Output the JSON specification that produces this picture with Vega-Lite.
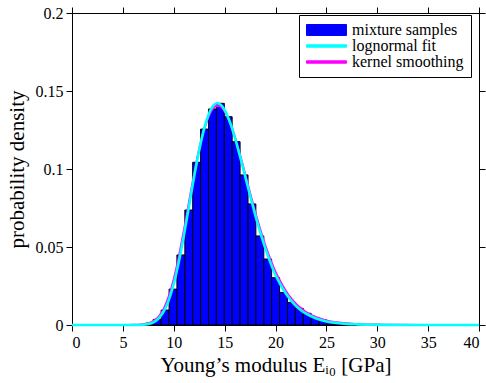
{
  "$schema": "https://vega.github.io/schema/vega-lite/v6.json",
  "width": 407,
  "height": 312,
  "autosize": "none",
  "padding": {"left": 72, "top": 13, "right": 7, "bottom": 58},
  "background": "white",
  "config": {
    "view": {"stroke": null},
    "axis": {
      "domainColor": "black", "tickColor": "black", "labelColor": "black", "titleColor": "black",
      "grid": false, "labelFont": "Liberation Serif", "titleFont": "Liberation Serif",
      "labelFontSize": 16, "titleFontSize": 21, "titleFontWeight": "normal",
      "tickSize": 6, "domainWidth": 1, "tickWidth": 1
    },
    "legend": {"labelFont": "Liberation Serif"}
  },
  "datasets": {
    "bins": [
      {"lo": 6.43, "hi": 7.21, "density": 0.0003},
      {"lo": 7.21, "hi": 7.98, "density": 0.0012},
      {"lo": 7.98, "hi": 8.76, "density": 0.0036},
      {"lo": 8.76, "hi": 9.54, "density": 0.0096},
      {"lo": 9.54, "hi": 10.31, "density": 0.023},
      {"lo": 10.31, "hi": 11.09, "density": 0.0449},
      {"lo": 11.09, "hi": 11.86, "density": 0.0737},
      {"lo": 11.86, "hi": 12.64, "density": 0.1043},
      {"lo": 12.64, "hi": 13.42, "density": 0.1256},
      {"lo": 13.42, "hi": 14.19, "density": 0.1385},
      {"lo": 14.19, "hi": 14.97, "density": 0.1421},
      {"lo": 14.97, "hi": 15.74, "density": 0.1335},
      {"lo": 15.74, "hi": 16.52, "density": 0.1175},
      {"lo": 16.52, "hi": 17.3, "density": 0.0962},
      {"lo": 17.3, "hi": 18.07, "density": 0.0776},
      {"lo": 18.07, "hi": 18.85, "density": 0.0571},
      {"lo": 18.85, "hi": 19.62, "density": 0.0423},
      {"lo": 19.62, "hi": 20.4, "density": 0.0303},
      {"lo": 20.4, "hi": 21.18, "density": 0.0209},
      {"lo": 21.18, "hi": 21.95, "density": 0.0145},
      {"lo": 21.95, "hi": 22.73, "density": 0.0107},
      {"lo": 22.73, "hi": 23.5, "density": 0.0075},
      {"lo": 23.5, "hi": 24.28, "density": 0.0047},
      {"lo": 24.28, "hi": 25.06, "density": 0.0032},
      {"lo": 25.06, "hi": 25.83, "density": 0.0021},
      {"lo": 25.83, "hi": 26.61, "density": 0.0013},
      {"lo": 26.61, "hi": 27.38, "density": 0.0008},
      {"lo": 27.38, "hi": 28.16, "density": 0.0005},
      {"lo": 28.16, "hi": 28.94, "density": 0.0003},
      {"lo": 28.94, "hi": 29.71, "density": 0.0002}
    ],
    "curves": [
      {"E": 0, "lognormal": 0, "kernel": 0},
      {"E": 5, "lognormal": 0, "kernel": 0},
      {"E": 6, "lognormal": 0.00001, "kernel": 0.00003},
      {"E": 6.5, "lognormal": 0.00004, "kernel": 0.0001},
      {"E": 7, "lognormal": 0.00017, "kernel": 0.0004},
      {"E": 7.5, "lognormal": 0.0006, "kernel": 0.001},
      {"E": 8, "lognormal": 0.0017, "kernel": 0.0024},
      {"E": 8.5, "lognormal": 0.0041, "kernel": 0.0052},
      {"E": 9, "lognormal": 0.0085, "kernel": 0.0101},
      {"E": 9.5, "lognormal": 0.0158, "kernel": 0.018},
      {"E": 10, "lognormal": 0.0265, "kernel": 0.0292},
      {"E": 10.5, "lognormal": 0.0406, "kernel": 0.0436},
      {"E": 11, "lognormal": 0.0576, "kernel": 0.0605},
      {"E": 11.5, "lognormal": 0.0762, "kernel": 0.0786},
      {"E": 12, "lognormal": 0.095, "kernel": 0.0965},
      {"E": 12.5, "lognormal": 0.1121, "kernel": 0.1126},
      {"E": 13, "lognormal": 0.1262, "kernel": 0.1256},
      {"E": 13.5, "lognormal": 0.1361, "kernel": 0.1348},
      {"E": 14, "lognormal": 0.1413, "kernel": 0.1398},
      {"E": 14.25, "lognormal": 0.1421, "kernel": 0.1405},
      {"E": 14.5, "lognormal": 0.1417, "kernel": 0.1404},
      {"E": 15, "lognormal": 0.1378, "kernel": 0.137},
      {"E": 15.5, "lognormal": 0.1304, "kernel": 0.1302},
      {"E": 16, "lognormal": 0.1203, "kernel": 0.1207},
      {"E": 16.5, "lognormal": 0.1084, "kernel": 0.1093},
      {"E": 17, "lognormal": 0.0958, "kernel": 0.097},
      {"E": 17.5, "lognormal": 0.083, "kernel": 0.0845},
      {"E": 18, "lognormal": 0.0707, "kernel": 0.0724},
      {"E": 18.5, "lognormal": 0.0593, "kernel": 0.0611},
      {"E": 19, "lognormal": 0.0491, "kernel": 0.0509},
      {"E": 19.5, "lognormal": 0.04, "kernel": 0.0419},
      {"E": 20, "lognormal": 0.032, "kernel": 0.034},
      {"E": 20.5, "lognormal": 0.0258, "kernel": 0.0275},
      {"E": 21, "lognormal": 0.0203, "kernel": 0.0219},
      {"E": 21.5, "lognormal": 0.0159, "kernel": 0.0173},
      {"E": 22, "lognormal": 0.0123, "kernel": 0.0136},
      {"E": 22.5, "lognormal": 0.0095, "kernel": 0.0106},
      {"E": 23, "lognormal": 0.0073, "kernel": 0.0082},
      {"E": 24, "lognormal": 0.0042, "kernel": 0.0049},
      {"E": 25, "lognormal": 0.0023, "kernel": 0.0029},
      {"E": 26, "lognormal": 0.0013, "kernel": 0.0017},
      {"E": 27, "lognormal": 0.0007, "kernel": 0.001},
      {"E": 28, "lognormal": 0.0004, "kernel": 0.0006},
      {"E": 29, "lognormal": 0.0002, "kernel": 0.0003},
      {"E": 30, "lognormal": 0.0001, "kernel": 0.0002},
      {"E": 32, "lognormal": 0.00002, "kernel": 0.00005},
      {"E": 35, "lognormal": 0, "kernel": 0},
      {"E": 40, "lognormal": 0, "kernel": 0}
    ]
  },
  "resolve": {"axis": {"x": "independent", "y": "independent"}},
  "layer": [
    {
      "data": {"name": "bins"},
      "mark": {"type": "bar", "stroke": "black", "strokeWidth": 1},
      "encoding": {
        "x": {"field": "lo", "type": "quantitative",
              "scale": {"domain": [0, 40], "nice": false},
              "axis": {"values": [0, 5, 10, 15, 20, 25, 30, 35, 40], "title": "Young’s modulus Eᵢ₀ [GPa]", "labelPadding": 3, "titlePadding": 4, "labelFont": "Liberation Serif"}},
        "x2": {"field": "hi"},
        "y": {"field": "density", "type": "quantitative",
              "scale": {"domain": [0, 0.2], "nice": false},
              "axis": {"values": [0, 0.05, 0.1, 0.15, 0.2], "format": "~g", "title": "probability density", "labelPadding": 3, "titlePadding": 8, "labelFont": "Liberation Serif"}},
        "y2": {"datum": 0},
        "color": {"datum": "mixture samples", "type": "nominal",
                  "scale": {"domain": ["mixture samples", "lognormal fit", "kernel smoothing"], "range": ["#0000ff", "#00ffff", "#ff00ff"]},
                  "legend": {
                    "orient": "none", "legendX": 227, "legendY": 2, "title": null,
                    "symbolSize": 225, "fillColor": "white", "strokeColor": "black",
                    "padding": 7, "labelFont": "Liberation Serif", "labelFontSize": 16,
                    "labelColor": "black", "labelLimit": 0, "rowPadding": 0, "labelOffset": 30,
                    "symbolType": {"expr": "datum.value === 'mixture samples' ? 'M-1,-0.73H4.33V0.73H-1Z' : 'M-1,-0.16H4.33V0.16H-1Z'"},
                    "symbolStrokeColor": {"expr": "datum.value === 'mixture samples' ? 'black' : 'transparent'"},
                    "symbolStrokeWidth": 1,
                    "symbolOpacity": 1
                  }}
      }
    },
    {
      "data": {"name": "curves"},
      "mark": {"type": "line", "strokeWidth": 2.2, "interpolate": "monotone"},
      "encoding": {
        "x": {"field": "E", "type": "quantitative", "scale": {"domain": [0, 40], "nice": false},
              "axis": {"values": [0, 5, 10, 15, 20, 25, 30, 35, 40], "labels": false, "title": null}},
        "y": {"field": "kernel", "type": "quantitative", "scale": {"domain": [0, 0.2], "nice": false},
              "axis": {"values": [0, 0.05, 0.1, 0.15, 0.2], "labels": false, "title": null}},
        "color": {"datum": "kernel smoothing", "type": "nominal"}
      }
    },
    {
      "data": {"name": "curves"},
      "mark": {"type": "line", "strokeWidth": 2.6, "interpolate": "monotone"},
      "encoding": {
        "x": {"field": "E", "type": "quantitative", "axis": null},
        "y": {"field": "lognormal", "type": "quantitative", "axis": null},
        "color": {"datum": "lognormal fit", "type": "nominal"}
      }
    }
  ]
}
